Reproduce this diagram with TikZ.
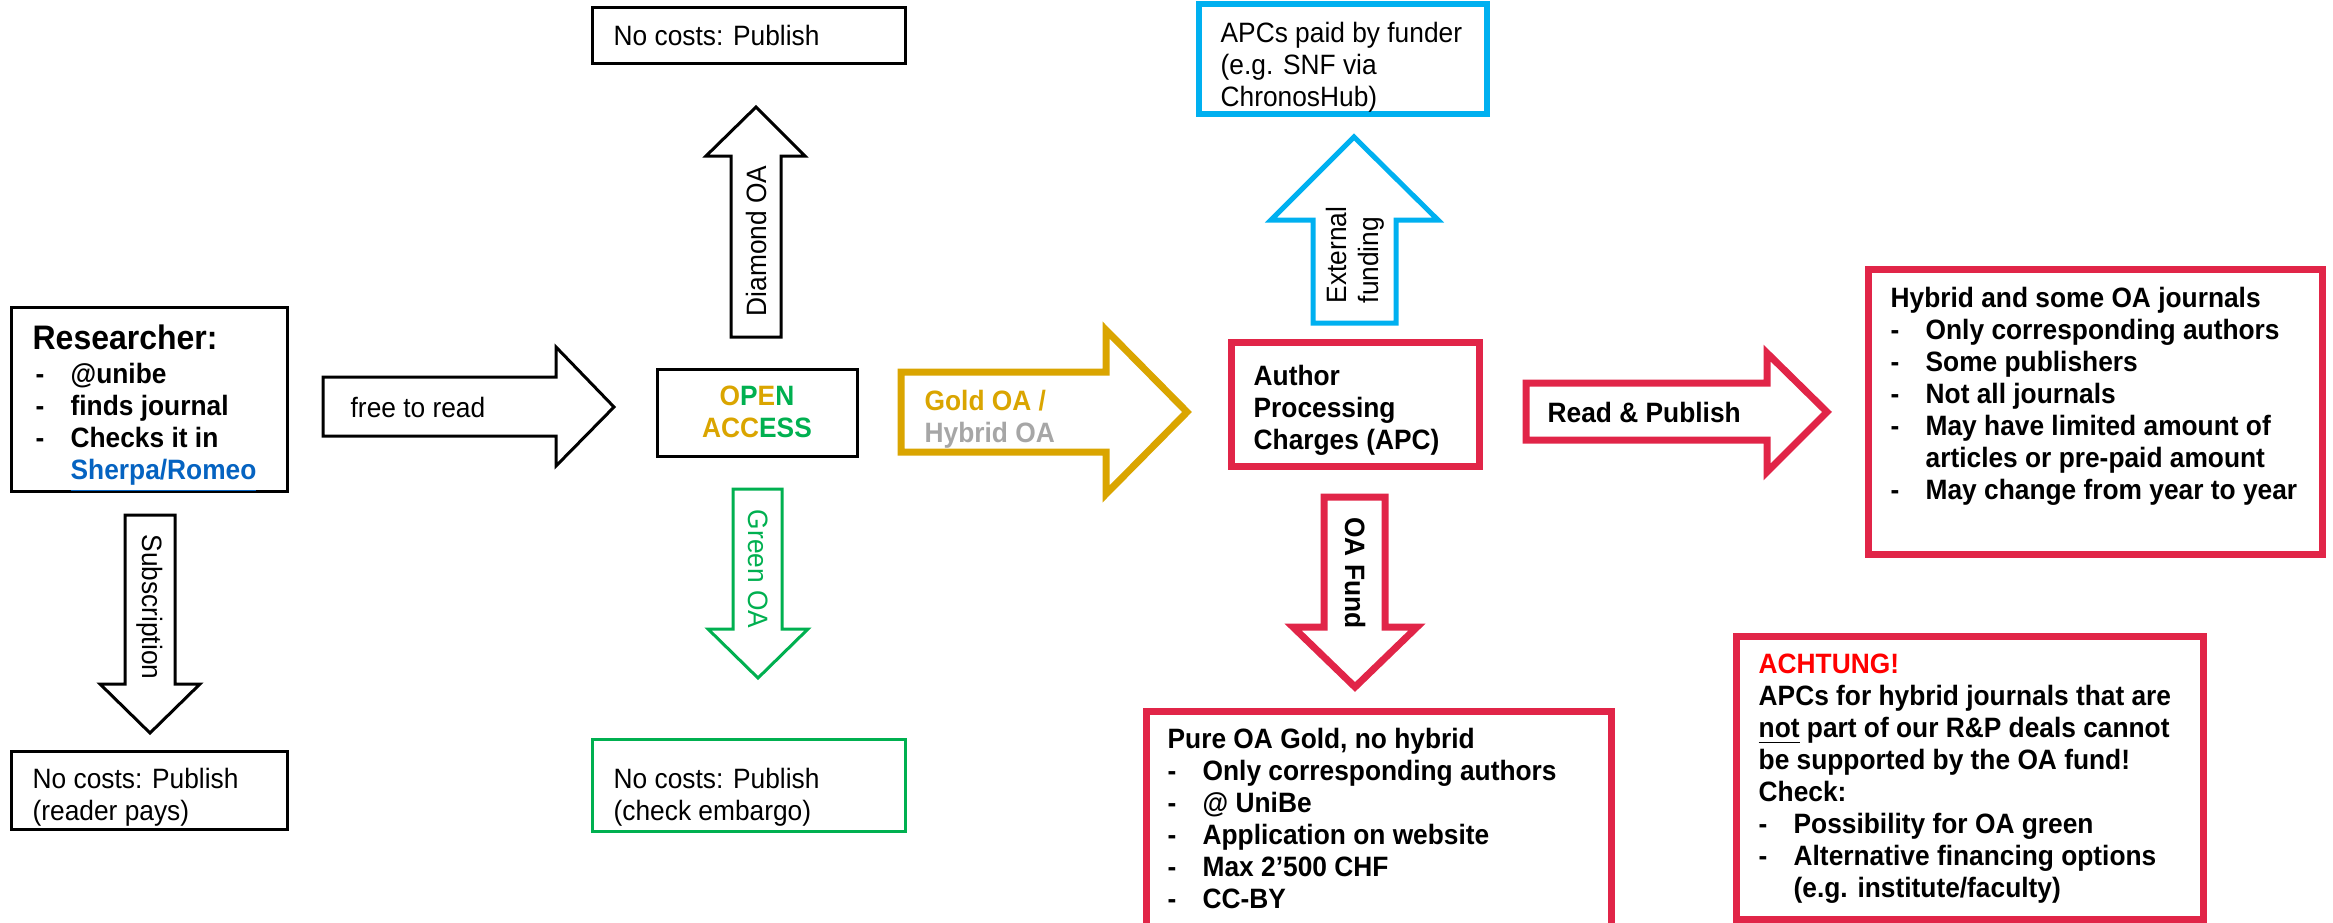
\documentclass[tikz,border=0pt]{standalone}
\usepackage{fontspec}
\setmainfont{Liberation Sans}[FakeStretch=0.94]
\definecolor{rd}{RGB}{225,37,72}
\definecolor{gold}{RGB}{218,165,0}
\definecolor{blu}{RGB}{0,176,240}
\definecolor{grn}{RGB}{0,176,80}
\definecolor{lnk}{RGB}{5,99,193}
\definecolor{gry}{RGB}{166,166,166}
\definecolor{alert}{RGB}{255,0,0}
\newcommand{\bul}[1]{\makebox[10.5pt][l]{-}#1}
\newcommand{\ind}{\hspace*{10.5pt}}
\tikzset{
  txt/.style={inner sep=0pt, font=\fontsize{8.4pt}{9.6pt}\selectfont, align=left, anchor=north west},
  btxt/.style={txt, font=\fontsize{8.4pt}{9.6pt}\selectfont\bfseries},
  kbox/.style={draw=black, line width=0.9pt},
  gbox/.style={draw=grn, line width=0.9pt},
  bbox/.style={draw=blu, line width=1.8pt},
  rbox/.style={draw=rd, line width=2.1pt},
  karrow/.style={draw=black, line width=0.9pt, fill=white},
  garrow/.style={draw=grn, line width=0.9pt, fill=white},
  goarrow/.style={draw=gold, line width=2.1pt, fill=white},
  barrow/.style={draw=blu, line width=1.5pt, fill=white},
  rarrow/.style={draw=rd, line width=2.1pt, fill=white},
}
\begin{document}
\begin{tikzpicture}[x=0.3pt,y=-0.3pt]
\path[use as bounding box] (0,0) rectangle (2333,922);
\clip (0,0) rectangle (2333,922);

% ---------- boxes ----------
\draw[kbox] (11,307) rectangle (287,491);
\node[btxt, anchor=base west, font=\fontsize{10.2pt}{12pt}\selectfont\bfseries] (restitle) at (32,349) {Researcher:};
\node[btxt] (reslist) at (35,363) {\bul{@unibe}\\ \bul{finds journal}\\ \bul{Checks it in}\\ \ind\textcolor{lnk}{\underline{Sherpa/Romeo}}};

\draw[kbox] (11,751) rectangle (287,829);
\node[txt] (readerpays) at (32,768) {No costs: Publish\\(reader pays)};

\draw[kbox] (592,7) rectangle (905,63);
\node[txt, anchor=west] (diamondpub) at (613,35) {No costs: Publish};

\draw[kbox] (657,369) rectangle (857,456);
\node[btxt, anchor=center, align=center] (openaccess) at (757,412)
  {\textcolor{gold}{O}\textcolor{grn}{P}\textcolor{gold}{E}\textcolor{grn}{N}\\
   \textcolor{gold}{ACC}\textcolor{grn}{ESS}};

\draw[gbox] (592,739) rectangle (905,831);
\node[txt] (greenpub) at (613,768) {No costs: Publish\\(check embargo)};

\draw[bbox] (1199,4) rectangle (1487,114);
\node[txt] (funder) at (1220,22) {APCs paid by funder\\(e.g. SNF via\\ChronosHub)};

\draw[rbox] (1231,342) rectangle (1479,466);
\node[btxt] (apc) at (1253,365) {Author\\Processing\\Charges (APC)};

\draw[rbox] (1868,269) rectangle (2322,554);
\node[btxt] (hybrid) at (1890,287) {Hybrid and some OA journals\\
  \bul{Only corresponding authors}\\
  \bul{Some publishers}\\
  \bul{Not all journals}\\
  \bul{May have limited amount of}\\
  \ind articles or pre-paid amount\\
  \bul{May change from year to year}};

\draw[rbox] (1146,711) rectangle (1611,960);
\node[btxt] (pure) at (1167,728) {Pure OA Gold, no hybrid\\
  \bul{Only corresponding authors}\\
  \bul{@ UniBe}\\
  \bul{Application on website}\\
  \bul{Max 2’500 CHF}\\
  \bul{CC-BY}};

\draw[rbox] (1736,636) rectangle (2203,919);
\node[btxt] (achtung) at (1758,653) {\textcolor{alert}{ACHTUNG!}\\
  APCs for hybrid journals that are\\
  \underline{not} part of our R\&P deals cannot\\
  be supported by the OA fund!\\
  Check:\\
  \bul{Possibility for OA green}\\
  \bul{Alternative financing options}\\
  \ind(e.g. institute/faculty)};

% ---------- block arrows ----------
% free to read
\draw[karrow] (323,377) -- (556,377) -- (556,347) -- (614,407) -- (556,466) -- (556,436) -- (323,436) -- cycle;
\node[txt, anchor=west] (freelbl) at (350,407) {free to read};

% subscription
\draw[karrow] (125,515) -- (175,515) -- (175,684) -- (200,684) -- (150,733) -- (100,684) -- (125,684) -- cycle;
\node[txt, anchor=center, rotate=-90] (sublbl) at (150,607) {Subscription};

% diamond OA
\draw[karrow] (731,337) -- (731,156) -- (706,156) -- (756,107) -- (805,156) -- (781,156) -- (781,337) -- cycle;
\node[txt, anchor=center, rotate=90] (diamondlbl) at (756,241) {Diamond OA};

% green OA
\draw[garrow] (733,489) -- (782,489) -- (782,629) -- (808,629) -- (758,678) -- (708,629) -- (733,629) -- cycle;
\node[txt, anchor=center, rotate=-90, text=grn] (greenlbl) at (758,569) {Green OA};

% gold OA
\draw[goarrow] (901,372) -- (1106,372) -- (1106,330) -- (1187,412) -- (1106,494) -- (1106,452) -- (901,452) -- cycle;
\node[btxt] (goldlbl) at (924,390) {\textcolor{gold}{Gold OA /}\\\textcolor{gry}{Hybrid OA}};

% external funding
\draw[barrow] (1313,323) -- (1313,220) -- (1271,220) -- (1354,137) -- (1438,220) -- (1396,220) -- (1396,323) -- cycle;
\node[txt, anchor=center, rotate=90] (extlbl) at (1355,255) {External\\funding};

% OA fund
\draw[rarrow] (1324,497) -- (1385,497) -- (1385,627) -- (1417,627) -- (1355,687) -- (1293,627) -- (1324,627) -- cycle;
\node[btxt, anchor=center, rotate=-90] (fundlbl) at (1355,573) {OA Fund};

% read & publish
\draw[rarrow] (1526,383) -- (1767,383) -- (1767,353) -- (1827,412) -- (1767,472) -- (1767,440) -- (1526,440) -- cycle;
\node[btxt, anchor=west] (rplbl) at (1547,412) {Read \& Publish};
\end{tikzpicture}
\end{document}
